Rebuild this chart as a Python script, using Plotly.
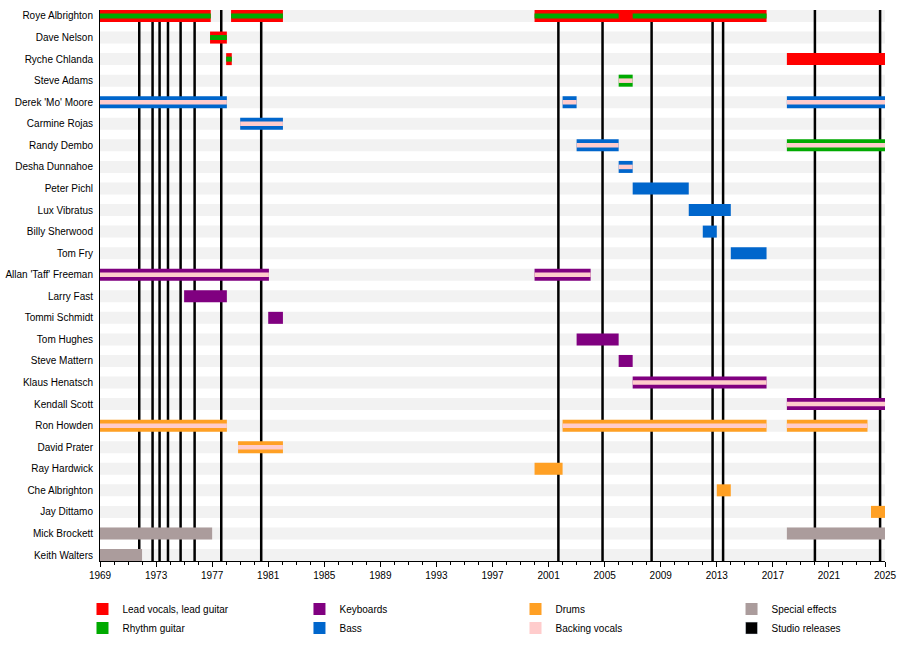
import plotly.graph_objects as go

# band members, top to bottom
members = ["Roye Albrighton", "Dave Nelson", "Ryche Chlanda", "Steve Adams",
           "Derek 'Mo' Moore", "Carmine Rojas", "Randy Dembo", "Desha Dunnahoe",
           "Peter Pichl", "Lux Vibratus", "Billy Sherwood", "Tom Fry",
           "Allan 'Taff' Freeman", "Larry Fast", "Tommi Schmidt", "Tom Hughes",
           "Steve Mattern", "Klaus Henatsch", "Kendall Scott", "Ron Howden",
           "David Prater", "Ray Hardwick", "Che Albrighton", "Jay Dittamo",
           "Mick Brockett", "Keith Walters"]

# (member, start, end)
lead_vocals_guitar = [("Roye Albrighton", 1969, 1976.9), ("Roye Albrighton", 1978.35, 1982.05),
                      ("Roye Albrighton", 2000, 2016.55), ("Dave Nelson", 1976.85, 1978.05),
                      ("Ryche Chlanda", 1978.0, 1978.4), ("Ryche Chlanda", 2018, 2025)]
keyboards = [("Allan 'Taff' Freeman", 1969, 1981.05), ("Allan 'Taff' Freeman", 2000, 2004),
             ("Larry Fast", 1975, 1978.05), ("Tommi Schmidt", 1981, 1982.05),
             ("Tom Hughes", 2003, 2006), ("Steve Mattern", 2006, 2007),
             ("Klaus Henatsch", 2007, 2016.55), ("Kendall Scott", 2018, 2025)]
drums = [("Ron Howden", 1969, 1978.05), ("Ron Howden", 2002, 2016.55), ("Ron Howden", 2018, 2023.75),
         ("David Prater", 1978.85, 1982.05), ("Ray Hardwick", 2000, 2002),
         ("Che Albrighton", 2013, 2014), ("Jay Dittamo", 2024, 2025)]
special_effects = [("Mick Brockett", 1969, 1977), ("Mick Brockett", 2018, 2025),
                   ("Keith Walters", 1969, 1972)]
rhythm_guitar = [("Roye Albrighton", 1969, 1976.9), ("Roye Albrighton", 1978.35, 1982.05),
                 ("Roye Albrighton", 2000, 2006), ("Roye Albrighton", 2007, 2016.55),
                 ("Dave Nelson", 1976.85, 1978.05), ("Ryche Chlanda", 1978.0, 1978.4),
                 ("Steve Adams", 2006, 2007), ("Randy Dembo", 2018, 2025)]
bass = [("Derek 'Mo' Moore", 1969, 1978.05), ("Derek 'Mo' Moore", 2002, 2003),
        ("Derek 'Mo' Moore", 2018, 2025), ("Carmine Rojas", 1979, 1982.05),
        ("Randy Dembo", 2003, 2006), ("Desha Dunnahoe", 2006, 2007),
        ("Peter Pichl", 2007, 2011), ("Lux Vibratus", 2011, 2014),
        ("Billy Sherwood", 2012, 2013), ("Tom Fry", 2014, 2016.55)]
backing_vocals = [("Steve Adams", 2006, 2007), ("Derek 'Mo' Moore", 1969, 1978.05),
                  ("Derek 'Mo' Moore", 2002, 2003), ("Derek 'Mo' Moore", 2018, 2025),
                  ("Carmine Rojas", 1979, 1982.05), ("Randy Dembo", 2003, 2006),
                  ("Randy Dembo", 2018, 2025), ("Desha Dunnahoe", 2006, 2007),
                  ("Allan 'Taff' Freeman", 1969, 1981.05), ("Allan 'Taff' Freeman", 2000, 2004),
                  ("Klaus Henatsch", 2007, 2016.55), ("Kendall Scott", 2018, 2025),
                  ("Ron Howden", 1969, 1978.05), ("Ron Howden", 2002, 2016.55),
                  ("Ron Howden", 2018, 2023.75), ("David Prater", 1978.85, 1982.05)]

studio_releases = [1971.8, 1972.75, 1973.25, 1973.85, 1974.75, 1975.75, 1977.65, 1980.5,
                   2001.7, 2004.85, 2008.35, 2012.7, 2013.45, 2020.0, 2024.65]

BAR = 0.557
STRIPE = 0.21
PAD = 0.278


def spans_trace(spans, name, color, thickness, legend):
    return go.Bar(
        y=[s[0] for s in spans],
        base=[s[1] for s in spans],
        x=[s[2] - s[1] for s in spans],
        orientation="h", name=name, width=thickness, legend=legend,
        marker=dict(color=color, line=dict(width=0)),
        hoverinfo="skip",
    )


fig = go.Figure()
# draw order: outer bars first, stripes on top
fig.add_trace(spans_trace(lead_vocals_guitar, "Lead vocals, lead guitar", "#FF0000", BAR, "legend"))
fig.add_trace(spans_trace(keyboards, "Keyboards", "#800080", BAR, "legend2"))
fig.add_trace(spans_trace(drums, "Drums", "#FFA024", BAR, "legend3"))
fig.add_trace(spans_trace(special_effects, "Special effects", "#AB9C9C", BAR, "legend4"))
rg_outer = [s for s in rhythm_guitar if s[0] in ("Steve Adams", "Randy Dembo")]
rg_inner = [s for s in rhythm_guitar if s not in rg_outer]
fig.add_trace(spans_trace(rg_outer, "Rhythm guitar", "#00AA00", BAR, "legend"))
fig.add_trace(spans_trace(rg_inner, "Rhythm guitar", "#00AA00", STRIPE + 0.02, "legend"))
fig.data[-1].showlegend = False
fig.add_trace(spans_trace(bass, "Bass", "#0066CC", BAR, "legend2"))
fig.add_trace(spans_trace(backing_vocals, "Backing vocals", "#FFCCCC", STRIPE, "legend3"))
fig.add_trace(go.Bar(x=[None], y=[None], orientation="h", name="Studio releases",
                     marker=dict(color="#000000"), legend="legend4"))

# light row bands
for i in range(len(members)):
    fig.add_shape(type="rect", xref="x", yref="y", x0=1969, x1=2025,
                  y0=i - BAR / 2, y1=i + BAR / 2, fillcolor="#F2F2F2",
                  line=dict(width=0), layer="below")
# studio release lines
for yr in studio_releases:
    fig.add_shape(type="line", xref="x", yref="y", x0=yr, x1=yr,
                  y0=-PAD, y1=len(members) - 1 + PAD,
                  line=dict(color="black", width=2.5), layer="below")

leg = dict(orientation="v", xanchor="left", y=-0.061, yanchor="top", tracegroupgap=0,
           font=dict(size=10), bgcolor="rgba(0,0,0,0)", traceorder="normal")
fig.update_layout(
    width=900, height=660,
    margin=dict(l=100, r=15, t=10, b=99),
    paper_bgcolor="white", plot_bgcolor="white",
    barmode="overlay",
    font=dict(family="Liberation Sans, Arial, sans-serif", size=10, color="black"),
    legend=dict(leg, x=-0.0223),
    legend2=dict(leg, x=0.2541),
    legend3=dict(leg, x=0.5293),
    legend4=dict(leg, x=0.8045),
)
fig.update_xaxes(range=[1969, 2025], tick0=1969, dtick=4, ticks="outside", ticklen=5,
                 tickcolor="black", showline=True, linecolor="black", showgrid=False,
                 zeroline=False, automargin=False,
                 minor=dict(dtick=1, ticks="outside", ticklen=3, tickcolor="black", showgrid=False))
fig.update_yaxes(type="category", categoryorder="array", categoryarray=members,
                 range=[len(members) - 1 + PAD, -PAD], showline=True, linecolor="black",
                 showgrid=False, ticks="", ticklabelstandoff=4, automargin=False)

fig.write_html("out.html", config={"displayModeBar": False},
               post_script="document.body.style.margin='0';")
